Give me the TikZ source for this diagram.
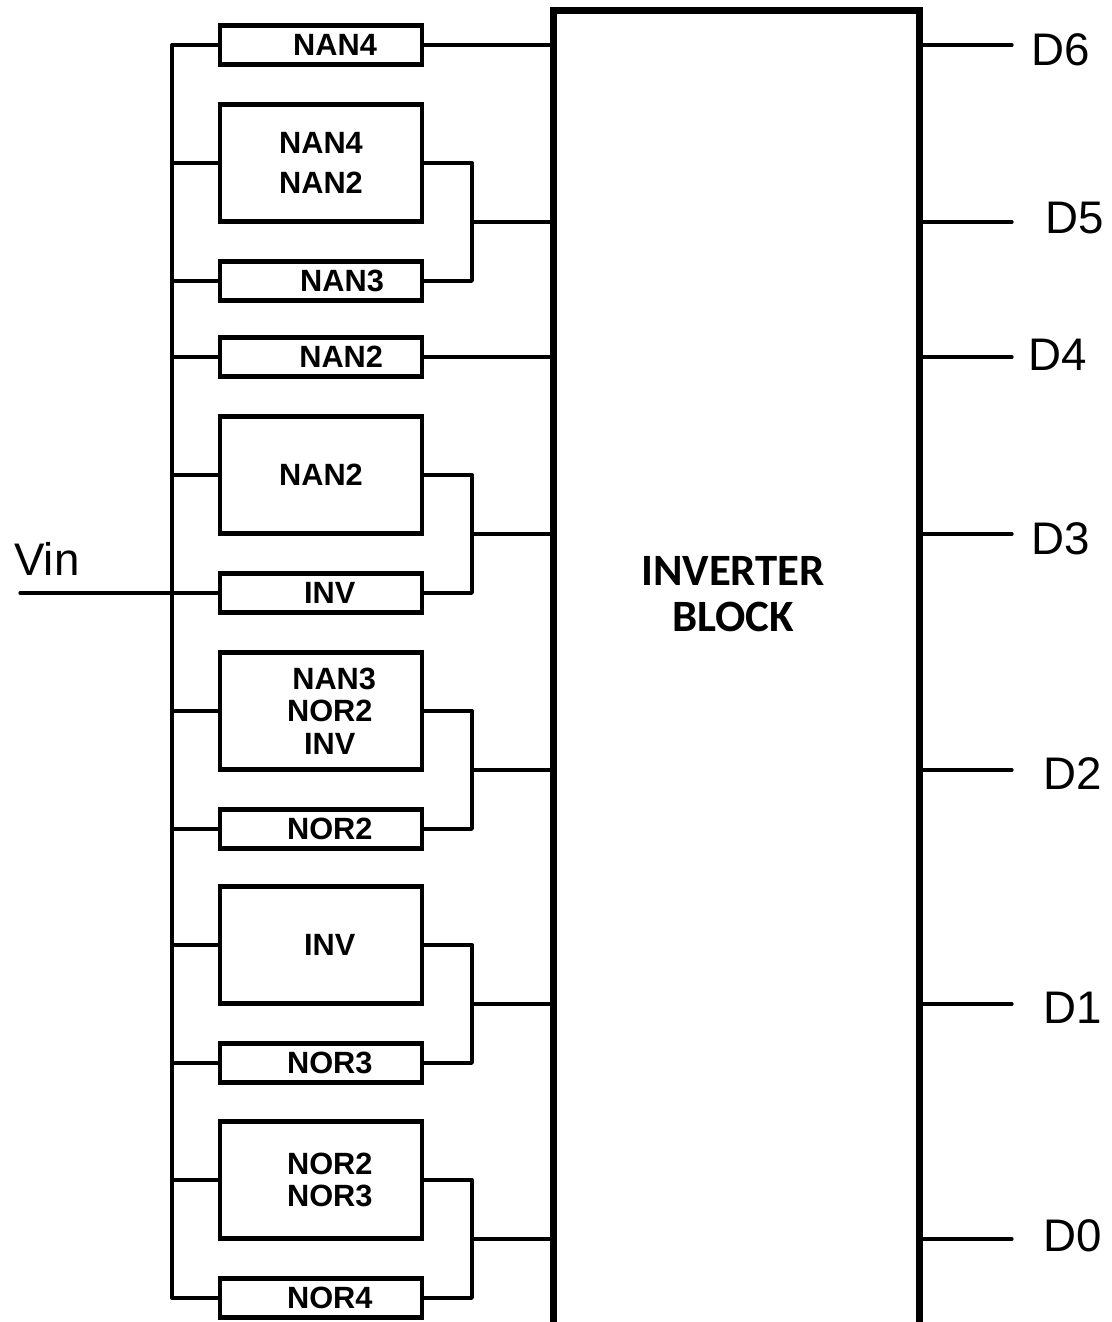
\documentclass[tikz,border=0pt]{standalone}
\usepackage{fontspec}
\setmainfont{Liberation Sans}
\newfontfamily\blockfont{Carlito}
\usepackage{tikz}
\usetikzlibrary{positioning,calc}
\newcommand\sh[1]{\hspace*{#1pt}}

\begin{document}
\begin{tikzpicture}[
  x=0.02cm,y=-0.02cm,
  wire/.style={line width=1.9pt,line cap=round,line join=round},
  gate/.style={draw,line width=2.4pt,minimum width=4.04cm,inner sep=0pt,align=center,
    font=\fontsize{17.5}{18.5}\selectfont\bfseries},
  thingate/.style={gate,minimum height=0.78cm},
  widegate/.style={gate,minimum height=2.34cm},
  port/.style={anchor=west,inner sep=0pt,font=\fontsize{26}{30}\selectfont}
]
\useasboundingbox (0,0) rectangle (1112,1322);

\node[draw,line width=4pt,minimum width=7.34cm,minimum height=27.8cm,inner sep=0pt] (blk) at (736.5,705) {};
\node[font=\blockfont\bfseries\fontsize{25.5}{26}\selectfont,align=center] (blktxt) at (733,594) {INVERTER\\BLOCK};

\node[thingate] (ga) at (321,45)   {\sh{16}NAN4};
\node[widegate] (gb) at (321,163)  {NAN4\\[4pt]NAN2};
\node[thingate] (gc) at (321,281)  {\sh{24}NAN3};
\node[thingate] (gd) at (321,357)  {\sh{23}NAN2};
\node[widegate] (ge) at (321,475)  {NAN2};
\node[thingate] (gf) at (321,593)  {\sh{10}INV};
\node[widegate] (gg) at (321,711)  {\sh{15}NAN3\\\sh{10}NOR2\\\sh{10}INV};
\node[thingate] (gh) at (321,829)  {\sh{10}NOR2};
\node[widegate] (gi) at (321,945)  {\sh{10}INV};
\node[thingate] (gj) at (321,1063) {\sh{10}NOR3};
\node[widegate] (gk) at (321,1180) {\sh{10}NOR2\\\sh{10}NOR3};
\node[thingate] (gl) at (321,1298) {\sh{10}NOR4};

\coordinate (bus) at (172,0);
\coordinate (jx) at (472,0);
\coordinate (vin) at (20,593);
\node[port] (vinlbl) at (14,559) {Vin};

\draw[wire] (ga.west) -- (ga.west -| bus) -- (gl.west -| bus) -- (gl.west);
\foreach \g in {gb,gc,gd,ge,gg,gh,gi,gj,gk}
  \draw[wire] (\g.west) -- (\g.west -| bus);
\draw[wire] (vin) -- (gf.west);

\draw[wire] (ga.east) -- (ga.east -| blk.west);
\draw[wire] (gd.east) -- (gd.east -| blk.west);
\foreach \a/\b in {gb/gc,ge/gf,gg/gh,gi/gj,gk/gl}{
  \draw[wire] (\a.east) -- (\a.east -| jx) -- (\b.east -| jx) -- (\b.east);
  \coordinate (m) at ($(\a.east)!0.5!(\b.east)$);
  \draw[wire] (m -| jx) -- (m -| blk.west);
}

\coordinate (o6) at (1012,45);
\coordinate (o5) at (1012,222);
\coordinate (o4) at (1012,357);
\coordinate (o3) at (1012,534);
\coordinate (o2) at (1012,770);
\coordinate (o1) at (1012,1004);
\coordinate (o0) at (1012,1239);
\foreach \i in {6,5,4,3,2,1,0}
  \draw[wire] (o\i -| blk.east) -- (o\i);

\node[port] (d6) at (1031,50)   {D6};
\node[port] (d5) at (1045,218)  {D5};
\node[port] (d4) at (1028,355)  {D4};
\node[port] (d3) at (1031,539)  {D3};
\node[port] (d2) at (1043,774)  {D2};
\node[port] (d1) at (1043,1008) {D1};
\node[port] (d0) at (1043,1236) {D0};
\end{tikzpicture}
\end{document}
